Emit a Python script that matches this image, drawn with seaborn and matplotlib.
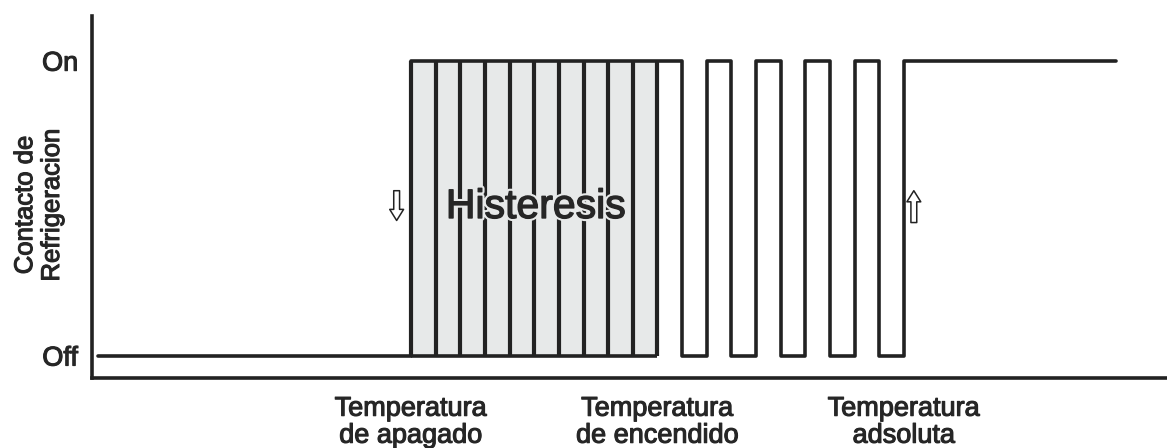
import numpy as np
import pandas as pd
import matplotlib
matplotlib.use("Agg")
import matplotlib.pyplot as plt
import matplotlib.patheffects as pe
import seaborn as sns

# ---------------------------------------------------------------------------
#  Data (x in arbitrary temperature units, state 0 = Off, 1 = On)
# ---------------------------------------------------------------------------
signal_x = [-2.7, 10, 21, 22, 23, 24, 25, 26, 27, 28, 29, 30, 38.6]
signal_state = [0, 1, 0, 1, 0, 1, 0, 1, 0, 1, 0, 1, 1]

hyst_edges = [10, 11, 12, 13, 14, 15, 16, 17, 18, 19, 20]

tick_pos = [10, 20, 30]
tick_labels = ["Temperatura\nde apagado",
               "Temperatura\nde encendido",
               "Temperatura\nadsoluta"]
state_ticks = [0, 1]
state_labels = ["Off", "On"]

INK = "#222222"
TXT = "#262626"
FILL = "#e7e9e9"

sns.set_theme(style="white")
plt.rcParams['font.family'] = ['Liberation Sans', 'DejaVu Sans']

# slightly heavier strokes, like the scanned original
heavy = [pe.Stroke(linewidth=0.8, foreground=TXT), pe.Normal()]

fig = plt.figure(figsize=(11.67, 4.48), dpi=100)
ax = fig.add_axes([0.0788, 0.157, 0.9212, 0.807])

# hysteresis band
ax.fill_between([hyst_edges[0], hyst_edges[-1]], 0, 1, color=FILL, lw=0, zorder=1)
ax.vlines(hyst_edges, 0, 1, color=INK, lw=3.0, zorder=2)
ax.hlines(0, hyst_edges[0], hyst_edges[-1], color=INK, lw=2.6, zorder=2)

# relay contact signal
df = pd.DataFrame({"x": signal_x, "state": signal_state})
sns.lineplot(data=df, x="x", y="state", ax=ax, drawstyle="steps-post",
             color=INK, lw=2.6, zorder=3)

ax.text(15.07, 0.4665, "Histeresis", fontsize=29.5, color=TXT,
        ha="center", va="baseline", zorder=4,
        path_effects=[pe.Stroke(linewidth=4, foreground=FILL),
                      pe.Stroke(linewidth=1.0, foreground=TXT),
                      pe.Normal()])

# hollow arrows
arrow_kw = dict(arrowstyle="simple,head_length=0.8,head_width=1.0,tail_width=0.42",
                fc="white", ec=INK, lw=1.1, shrinkA=0, shrinkB=0, mutation_scale=10)
ax.annotate("", xy=(9.42, 0.458), xytext=(9.42, 0.559), arrowprops=arrow_kw)
ax.annotate("", xy=(30.4, 0.559), xytext=(30.4, 0.451), arrowprops=arrow_kw)

ax.set_xlim(-2.94, 40.67)
ax.set_ylim(-0.075, 1.151)

ax.set_xticks(tick_pos)
ax.set_xticklabels(tick_labels, fontsize=19.5, color=TXT, linespacing=1.05)
ax.set_yticks(state_ticks)
ax.set_yticklabels(state_labels, fontsize=19.5, color=TXT)
ax.tick_params(axis="x", direction="inout", length=15, width=2.2, color=INK, pad=5.5)
ax.tick_params(axis="y", length=0, pad=10)
for lbl in ax.get_xticklabels() + ax.get_yticklabels():
    lbl.set_path_effects(heavy)

ax.set_xlabel("")
ax.set_ylabel("Contacto de\nRefrigeracion", fontsize=18.5, color=TXT, linespacing=1.15,
              path_effects=heavy)
ax.yaxis.set_label_coords(-0.026, 0.478)

sns.despine(ax=ax)
for side in ["left", "bottom"]:
    ax.spines[side].set_color(INK)
    ax.spines[side].set_linewidth(2.6)

fig.savefig("out.png", dpi=100)
